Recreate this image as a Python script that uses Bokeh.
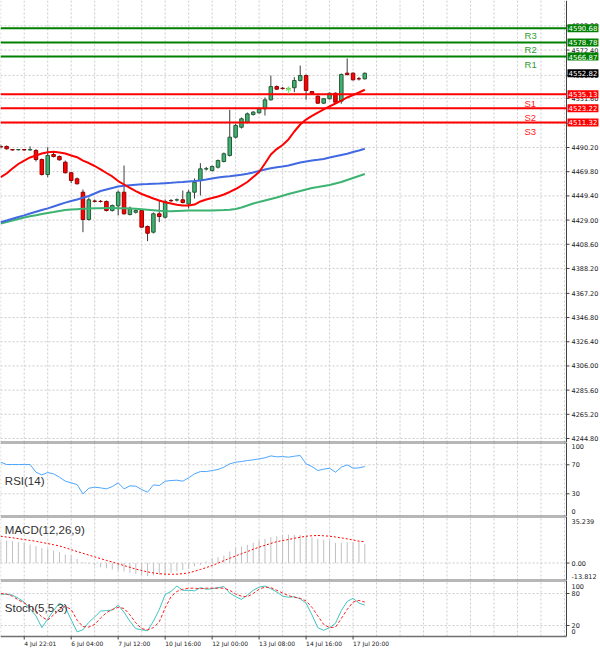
from bokeh.plotting import figure
from bokeh.models import Range1d, Label, Arrow, VeeHead, ColumnDataSource
from bokeh.layouts import column
from bokeh.embed import file_html
from bokeh.resources import INLINE
from bokeh.core.properties import value

# ---------------- data ----------------
opens = [4491.1, 4491.1, 4488.5, 4488.3, 4488.5, 4488.1, 4487.7, 4480.1, 4467.4, 4484.3,
         4482.6, 4477.8, 4468.9, 4463.8, 4452.5, 4429.5, 4445.1, 4444.8, 4444.7, 4437.1,
         4441.0, 4452.5, 4433.7, 4435.6, 4437.1, 4423.6, 4418.8, 4434.3, 4431.4, 4445.5,
         4445.9, 4446.1, 4442.7, 4452.5, 4462.4, 4472.1, 4470.8, 4473.6, 4478.4, 4483.5,
         4498.9, 4507.3, 4511.5, 4518.0, 4519.5, 4522.8, 4530.4, 4541.6, 4540.2, 4539.9,
         4540.6, 4546.7, 4550.9, 4537.4, 4533.5, 4527.6, 4531.3, 4536.0, 4529.3, 4552.9,
         4552.9, 4548.2, 4548.1]
highs = [4492.7, 4491.9, 4488.9, 4488.9, 4488.9, 4491.1, 4488.9, 4480.9, 4490.5, 4486.0,
         4483.5, 4479.2, 4469.8, 4464.9, 4454.8, 4448.0, 4446.4, 4445.9, 4445.5, 4442.1,
         4453.9, 4475.0, 4440.4, 4437.9, 4437.9, 4424.4, 4435.4, 4445.5, 4446.4, 4446.8,
         4447.2, 4453.9, 4454.5, 4464.1, 4477.0, 4473.8, 4475.0, 4480.1, 4486.0, 4522.0,
         4510.4, 4515.5, 4519.7, 4521.0, 4523.9, 4532.4, 4550.9, 4542.5, 4541.2, 4540.8,
         4549.5, 4559.3, 4551.8, 4537.9, 4534.1, 4531.9, 4536.6, 4536.6, 4552.6, 4565.3,
         4553.5, 4549.7, 4553.5]
lows = [4489.4, 4488.5, 4487.7, 4487.7, 4487.7, 4487.7, 4478.4, 4466.6, 4465.2, 4481.8,
        4479.2, 4468.3, 4460.1, 4459.0, 4418.8, 4428.6, 4443.8, 4443.8, 4436.2, 4436.2,
        4432.9, 4433.7, 4432.9, 4434.5, 4422.7, 4411.2, 4417.7, 4427.2, 4430.3, 4444.2,
        4444.7, 4443.0, 4438.8, 4447.2, 4449.7, 4470.8, 4469.9, 4472.5, 4477.6, 4482.6,
        4497.8, 4506.2, 4510.4, 4517.2, 4518.9, 4517.2, 4529.8, 4538.7, 4539.1, 4539.1,
        4536.8, 4545.9, 4530.4, 4534.9, 4526.9, 4526.9, 4530.7, 4527.7, 4527.1, 4550.9,
        4546.7, 4546.7, 4547.6]
closes = [4490.6, 4489.1, 4488.1, 4488.5, 4488.1, 4488.5, 4480.1, 4467.4, 4483.5, 4482.6,
          4479.8, 4468.9, 4462.4, 4459.6, 4429.5, 4446.1, 4444.8, 4444.7, 4437.1, 4441.3,
          4452.5, 4434.3, 4439.0, 4437.1, 4423.0, 4417.9, 4434.3, 4432.0, 4444.7, 4445.3,
          4446.1, 4443.8, 4452.5, 4460.9, 4472.2, 4472.3, 4474.2, 4479.2, 4484.9, 4498.9,
          4508.8, 4514.4, 4518.6, 4520.0, 4522.8, 4530.4, 4541.6, 4539.4, 4539.9, 4539.8,
          4546.7, 4550.9, 4538.3, 4535.5, 4527.6, 4531.3, 4536.0, 4528.4, 4551.8, 4551.8,
          4547.3, 4548.1, 4552.82]

ma_red = [4465.2, 4468.3, 4472.5, 4476.3, 4479.2, 4481.8, 4483.5, 4485.1, 4486.2, 4486.6,
          4486.0, 4485.1, 4483.5, 4482.0, 4479.2, 4477.1, 4474.6, 4471.7, 4468.7, 4465.8,
          4461.9, 4459.0, 4456.1, 4453.5, 4451.0, 4449.1, 4447.2, 4445.5, 4444.1, 4443.0,
          4441.9, 4441.3, 4441.3, 4442.1, 4444.7, 4446.4, 4447.6, 4448.9, 4450.6, 4452.7,
          4455.2, 4458.1, 4461.1, 4465.3, 4469.5, 4476.7, 4484.3, 4488.9, 4492.3, 4497.0,
          4503.7, 4509.6, 4513.8, 4516.8, 4519.7, 4522.3, 4524.8, 4527.3, 4529.8, 4532.4,
          4534.5, 4536.6, 4538.9]
ma_blue = [4427.2, 4428.6, 4430.1, 4431.6, 4433.0, 4434.5, 4436.0, 4437.5, 4438.9, 4440.5,
           4442.1, 4443.7, 4445.1, 4446.4, 4447.9, 4449.3, 4451.4, 4453.5, 4454.8, 4456.1,
           4457.3, 4457.9, 4458.4, 4458.8, 4459.2, 4459.4, 4459.7, 4459.8, 4460.1, 4460.4,
           4460.8, 4461.1, 4461.5, 4461.9, 4462.4, 4463.2, 4464.1, 4464.9, 4465.5, 4465.9,
           4466.6, 4467.2, 4468.0, 4469.1, 4470.4, 4471.7, 4472.7, 4473.6, 4474.2, 4475.0,
           4476.3, 4477.6, 4478.4, 4479.2, 4479.8, 4480.5, 4481.8, 4482.9, 4483.9, 4484.9,
           4486.4, 4487.7, 4489.1]
ma_green = [4426.1, 4427.4, 4428.6, 4429.9, 4431.2, 4432.3, 4433.1, 4434.1, 4435.0, 4435.8,
            4436.7, 4437.5, 4437.9, 4438.2, 4438.5, 4438.8, 4438.9, 4439.0, 4439.1, 4439.1,
            4439.0, 4438.9, 4438.8, 4438.5, 4438.1, 4437.7, 4437.3, 4436.8, 4436.6, 4436.5,
            4436.7, 4436.9, 4437.1, 4437.1, 4437.1, 4437.1, 4437.1, 4437.3, 4437.4, 4437.7,
            4438.4, 4439.6, 4441.3, 4443.0, 4444.2, 4445.5, 4446.8, 4448.0, 4449.5, 4451.0,
            4452.3, 4453.5, 4454.8, 4456.1, 4456.9, 4457.8, 4458.6, 4459.9, 4461.1, 4462.8,
            4464.5, 4466.2, 4467.9]

rsi = [73.6, 70.4, 70.4, 70.4, 70.4, 70.4, 59.8, 56.1, 59.3, 57.5,
       52.9, 47.4, 45.1, 42.8, 29.9, 37.7, 39.1, 38.2, 36.8, 40.0,
       45.1, 36.8, 40.9, 40.5, 35.9, 32.2, 42.3, 41.4, 47.4, 48.3,
       48.8, 47.4, 52.0, 57.5, 60.7, 60.7, 62.1, 63.5, 66.7, 71.3,
       73.6, 74.5, 75.9, 76.8, 78.2, 79.6, 82.3, 81.0, 81.4, 80.5,
       81.9, 82.8, 71.3, 67.6, 62.1, 64.0, 65.3, 59.8, 66.7, 69.9,
       65.3, 65.8, 67.6]

macd_main = [17.8, 17.8, 17.3, 16.5, 16.0, 14.6, 13.3, 11.7, 11.2, 9.9,
             8.6, 6.7, 5.9, 3.3, 0.7, -0.7, -2.0, -3.3, -4.1, -5.1,
             -5.9, -6.7, -7.8, -8.6, -9.4, -10.4, -9.9, -9.4, -8.6, -7.8,
             -6.7, -5.4, -4.6, -2.5, -1.5, 1.2, 3.8, 4.6, 5.9, 9.1,
             11.7, 13.1, 14.4, 16.0, 17.8, 19.1, 20.4, 21.2, 22.3, 22.5,
             22.3, 22.3, 21.2, 20.4, 19.1, 18.6, 17.8, 16.0, 16.0, 16.5,
             16.5, 16.5, 15.2]
macd_signal = [21.2, 20.6, 20.0, 19.3, 18.6, 17.9, 17.2, 16.3, 15.4, 14.5,
               13.5, 12.1, 10.6, 9.1, 7.7, 6.3, 4.9, 3.5, 2.1, 0.8,
               -0.6, -2.0, -3.4, -4.8, -5.9, -7.0, -7.8, -8.4, -8.8, -8.9,
               -8.8, -8.4, -7.8, -6.5, -5.1, -3.6, -2.0, -0.1, 1.9, 3.8,
               5.6, 7.4, 9.1, 10.9, 12.6, 14.0, 15.5, 16.9, 17.8, 18.6,
               19.6, 20.4, 21.2, 21.6, 21.8, 21.6, 21.2, 20.6, 19.9, 19.1,
               18.3, 17.3, 16.9]

stoch_k = [78.7, 78.7, 77, 71, 64, 51, 38, 16, 32, 48,
           62, 54, 31, 8, 12, 26, 36, 47, 48, 49,
           58, 45, 28, 14, 12, 10, 28, 50, 78, 84,
           94, 86, 86, 85, 91, 88, 89, 91, 93, 81,
           74, 69, 77, 86, 92, 94, 89, 83, 75, 73,
           74, 70, 62, 40, 16, 11, 16, 24, 48, 65,
           71, 62, 58]
stoch_d = [80, 79, 75, 68, 62, 56, 47, 36, 30, 40,
           50, 56, 50, 30, 18, 17, 22, 34, 44, 50,
           54, 52, 40, 25, 14, 12, 16, 27, 53, 74,
           84, 88, 90, 90, 89, 90, 90, 90, 90, 86,
           79, 75, 74, 80, 88, 92, 91, 86, 81, 76,
           73, 71, 66, 54, 38, 22, 16, 17, 33, 50,
           64, 67, 64]

res_levels = [4566.87, 4578.78, 4590.68]
res_names = ["R1", "R2", "R3"]
sup_levels = [4535.13, 4523.22, 4511.32]
sup_names = ["S1", "S2", "S3"]
last_price = 4552.82

price_ticks = [4244.80, 4265.20, 4285.60, 4306.00, 4326.40, 4346.80, 4367.20, 4388.20,
               4408.60, 4429.00, 4449.40, 4469.80, 4490.20, 4510.60, 4531.60, 4551.00,
               4572.40, 4592.80]
rsi_ticks = [70, 30]
rsi_limits = [0, 100]
macd_ticks = [0.0]
macd_limits = [-13.812, 35.239]
stoch_ticks = [80, 20]
stoch_limits = [0, 100]
time_tick_bars = [4, 12, 20, 28, 36, 44, 52, 60]
time_tick_labels = ["4 Jul 22:01", "6 Jul 04:00", "7 Jul 12:00", "10 Jul 16:00",
                    "12 Jul 00:00", "13 Jul 08:00", "14 Jul 16:00", "17 Jul 20:00"]

signal_bar = [49]
signal_from = [4535.5]
signal_to = [4541.5]

# ---------------- layout constants (style) ----------------
bars = list(range(len(closes)))
X0 = -0.04
AXIS_X = 96.35                       # price-scale line (566 px)
PX_PER_BAR = 566 / (AXIS_X - X0)
X_RANGE = Range1d(X0, X0 + 600 / PX_PER_BAR)
GRID_BARS = list(range(0, 97, 4))
TICK_LEN = 3 / PX_PER_BAR
LABEL_X = AXIS_X + 5 / PX_PER_BAR
BOX_X = AXIS_X + 1 / PX_PER_BAR
AXIS_FONT = "DejaVu Sans"
LABEL_FONT = "Liberation Sans"
GRID_COLOR = "#cccccc"
SEP_COLOR = "#707070"
AXIS_COLOR = "#404040"
TEXT_COLOR = "#202020"


def make_panel(height, lo, hi):
    p = figure(width=600, height=height, x_range=X_RANGE, y_range=Range1d(lo, hi),
               output_backend="svg", toolbar_location=None,
               x_axis_location=None, y_axis_location=None,
               min_border=0, min_border_left=0, min_border_right=0,
               min_border_top=0, min_border_bottom=0)
    p.outline_line_color = None
    p.grid.visible = False
    p.background_fill_color = "white"
    p.border_fill_color = "white"
    return p


def draw_scale(p, bot, top, ticks, labels, top_sep=True, bottom_sep_width=2):
    n = len(GRID_BARS)
    p.segment(x0=GRID_BARS, y0=[bot] * n, x1=GRID_BARS, y1=[top] * n,
              line_color=GRID_COLOR, line_dash="2 2", line_width=1)
    m = len(ticks)
    p.segment(x0=[X0] * m, y0=ticks, x1=[AXIS_X] * m, y1=ticks,
              line_color=GRID_COLOR, line_dash="2 2", line_width=1)
    p.segment(x0=[AXIS_X], y0=[bot], x1=[AXIS_X], y1=[top], line_color=AXIS_COLOR, line_width=1)
    p.segment(x0=[AXIS_X] * m, y0=ticks, x1=[AXIS_X + TICK_LEN] * m, y1=ticks,
              line_color=AXIS_COLOR, line_width=1)
    p.text(x=[LABEL_X] * m, y=ticks, text=labels, text_baseline="middle", text_align="left",
           text_font=value(AXIS_FONT), text_font_size="6.5px", text_color=TEXT_COLOR)
    p.segment(x0=[X0], y0=[bot], x1=[AXIS_X], y1=[bot], line_color=SEP_COLOR,
              line_width=bottom_sep_width)
    if top_sep:
        p.segment(x0=[X0], y0=[top], x1=[AXIS_X], y1=[top], line_color=SEP_COLOR, line_width=2)


def edge_labels(p, limits, texts):
    p.text(x=[LABEL_X], y=[limits[1]], text=[texts[1]], text_baseline="top", y_offset=1,
           text_align="left", text_font=value(AXIS_FONT), text_font_size="6.5px",
           text_color=TEXT_COLOR)
    p.text(x=[LABEL_X], y=[limits[0]], text=[texts[0]], text_baseline="bottom", y_offset=-2,
           text_align="left", text_font=value(AXIS_FONT), text_font_size="6.5px",
           text_color=TEXT_COLOR)


def name_label(p, y, text):
    p.add_layout(Label(x=0.7, y=y, text=text, text_font=LABEL_FONT,
                       text_font_size="11.5px", text_color="#303030",
                       text_align="left", text_baseline="middle"))


# ---------------- main price panel: 0..442 px ----------------
MAIN_HI = 4614.17
MAIN_LO = 4241.44
p1 = make_panel(442, MAIN_LO, MAIN_HI)
draw_scale(p1, MAIN_LO, MAIN_HI, price_ticks, [f"{t:.2f}" for t in price_ticks],
           top_sep=False)

up = [c >= o for o, c in zip(opens, closes)]
src = ColumnDataSource(dict(
    x=bars, h=highs, l=lows,
    top=[max(o, c) for o, c in zip(opens, closes)],
    bot=[min(o, c) for o, c in zip(opens, closes)],
    fill=["#3cb371" if u else "#ff0000" for u in up],
    edge=["#2a5a3a" if u else "#900000" for u in up],
))
p1.segment(x0="x", y0="l", x1="x", y1="h", source=src, line_color="#3c3c3c", line_width=1)
p1.vbar(x="x", width=0.6, top="top", bottom="bot", source=src,
        fill_color="fill", line_color="edge", line_width=1)

p1.line(bars, ma_green, line_color="#3cb371", line_width=2)
p1.line(bars, ma_blue, line_color="#4169e1", line_width=2)
p1.line(bars, ma_red, line_color="#ff0000", line_width=2)

p1.segment(x0=[X0] * 3, y0=res_levels, x1=[AXIS_X] * 3, y1=res_levels,
           line_color="#008000", line_width=2)
p1.segment(x0=[X0] * 3, y0=sup_levels, x1=[AXIS_X] * 3, y1=sup_levels,
           line_color="#ff0000", line_width=2)
p1.text(x=[89.2] * 3, y=res_levels, text=res_names, text_baseline="top", y_offset=2,
        text_font=value(LABEL_FONT), text_font_size="9.5px", text_color="#2e9e2e")
p1.text(x=[89.2] * 3, y=sup_levels, text=sup_names, text_baseline="top", y_offset=4,
        text_font=value(LABEL_FONT), text_font_size="9.5px", text_color="#ff2020")

for i in range(len(signal_bar)):
    p1.add_layout(Arrow(end=VeeHead(size=4, line_color="#66ee66", fill_color="#66ee66"),
                        x_start=signal_bar[i], y_start=signal_from[i],
                        x_end=signal_bar[i], y_end=signal_to[i],
                        line_color="#66ee66", line_width=1))


def value_box(p, y, color):
    p.add_layout(Label(x=BOX_X, y=y, text=f"{y:.2f}", text_font=AXIS_FONT,
                       text_font_size="7px", text_color="white",
                       text_align="left", text_baseline="middle",
                       background_fill_color=color, padding=1))


for lv in res_levels:
    value_box(p1, lv, "#008000")
for lv in sup_levels:
    value_box(p1, lv, "#ff0000")
value_box(p1, last_price, "#000000")

# ---------------- RSI panel: 442..516 px ----------------
p2 = make_panel(74, -1.31, 100.76)
draw_scale(p2, -1.31, 100.76, rsi_ticks, [str(t) for t in rsi_ticks])
edge_labels(p2, rsi_limits, [str(v) for v in rsi_limits])
p2.line(bars, rsi, line_color="#4da6ff", line_width=1)
name_label(p2, 48, "RSI(14)")

# ---------------- MACD panel: 516..580 px ----------------
p3 = make_panel(64, macd_limits[0], 36.82)
draw_scale(p3, macd_limits[0], 36.82, macd_ticks, [f"{t:.2f}" for t in macd_ticks])
edge_labels(p3, macd_limits, [f"{v:.3f}" for v in macd_limits])
p3.segment(x0=bars, y0=[0] * len(bars), x1=bars, y1=macd_main,
           line_color="#c0c0c0", line_width=1)
p3.line(bars, macd_signal, line_color="#ff0000", line_width=1, line_dash="2 2")
name_label(p3, 26.5, "MACD(12,26,9)")

# ---------------- Stochastic panel: 580..636 px + time labels to 650 ----------------
ST_HI, ST_BOT, ST_LO = 104.4, -0.63, -26.9
p4 = make_panel(70, ST_LO, ST_HI)
draw_scale(p4, ST_BOT, ST_HI, stoch_ticks, [str(t) for t in stoch_ticks], bottom_sep_width=1.5)
edge_labels(p4, stoch_limits, [str(v) for v in stoch_limits])
p4.line(bars, stoch_k, line_color="#40c4c0", line_width=1)
p4.line(bars, stoch_d, line_color="#ff2020", line_width=1, line_dash="3 2")
name_label(p4, 53, "Stoch(5,5,3)")

k = len(time_tick_bars)
p4.segment(x0=time_tick_bars, y0=[ST_BOT] * k, x1=time_tick_bars, y1=[-6.3] * k,
           line_color=AXIS_COLOR, line_width=1)
p4.text(x=time_tick_bars, y=[-7.2] * k, text=time_tick_labels, text_baseline="top",
        text_align="left", text_font=value(AXIS_FONT), text_font_size="6px",
        text_color=TEXT_COLOR)

layout = column(p1, p2, p3, p4, spacing=0)
open("out.html", "w").write(file_html(layout, INLINE))
